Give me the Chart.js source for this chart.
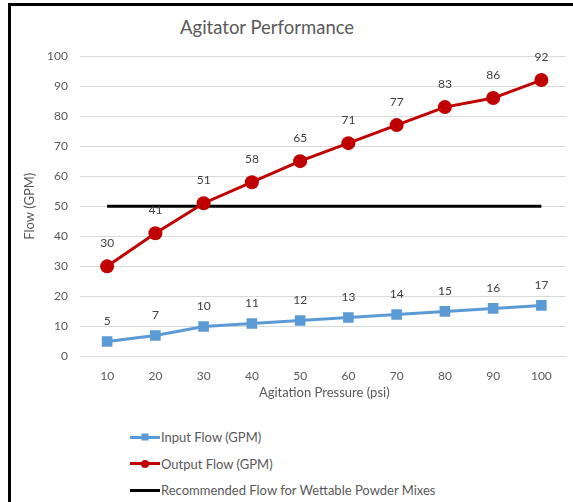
<!DOCTYPE html>
<html>
<head>
<meta charset="utf-8">
<script src="https://cdn.jsdelivr.net/npm/chart.js@4/dist/chart.umd.min.js"></script>
<style>
  html, body { margin: 0; padding: 0; background: #fff; overflow: hidden; }
  body { width: 573px; height: 502px; position: relative; font-family: Lato, "Noto Sans", sans-serif; }
  #frameL { position: absolute; left: 8px; top: 3px; width: 3px; height: 499px; background: #000; }
  #frameT { position: absolute; left: 8px; top: 3px; width: 565px; height: 3px; background: #000; }
  #title { position: absolute; left: 180px; top: 16px; font-size: 18.5px; color: #595959; white-space: nowrap; }
  #wrap { position: absolute; left: 0; top: 0; width: 573px; height: 415px; }
  #legend { position: absolute; left: 130px; top: 424px; font-size: 13px; color: #595959; }
  .item { height: 26.5px; display: flex; align-items: center; }
  .mk { position: relative; width: 30px; height: 14px; margin-right: 1px; }
  .mk .ln { position: absolute; left: 0; right: 0; top: 5.5px; height: 3px; }
  .mk .pt { position: absolute; left: 50%; top: 50%; transform: translate(-50%, -50%); }
</style>
</head>
<body>
<div id="frameL"></div>
<div id="frameT"></div>
<div id="title">Agitator Performance</div>
<div id="wrap"><canvas id="c" width="573" height="415"></canvas></div>
<div id="legend"></div>
<script>
const categories = ["10","20","30","40","50","60","70","80","90","100"];
const inputFlow = [5, 7, 10, 11, 12, 13, 14, 15, 16, 17];
const outputFlow = [30, 41, 51, 58, 65, 71, 77, 83, 86, 92];
const recommendedFlow = [50, 50, 50, 50, 50, 50, 50, 50, 50, 50];
const yTicks = [0, 10, 20, 30, 40, 50, 60, 70, 80, 90, 100];

const FONT = "Lato, 'Noto Sans', sans-serif";
const GREY = "#595959";

const valueLabels = {
  id: "valueLabels",
  afterDatasetsDraw(chart) {
    const ctx = chart.ctx;
    ctx.save();
    ctx.font = "12px " + FONT;
    ctx.fillStyle = "#404040";
    ctx.textAlign = "center";
    ctx.textBaseline = "middle";
    chart.data.datasets.forEach((ds, i) => {
      if (!ds.showValues) return;
      const meta = chart.getDatasetMeta(i);
      meta.data.forEach((pt, j) => {
        ctx.fillText(String(ds.data[j]), pt.x, pt.y - ds.labelOffset);
      });
    });
    ctx.restore();
  }
};

const chart = new Chart(document.getElementById("c"), {
  type: "line",
  data: {
    labels: categories,
    datasets: [
      {
        label: "Input Flow (GPM)",
        data: inputFlow,
        borderColor: "#5B9BD5",
        backgroundColor: "#5B9BD5",
        borderWidth: 3,
        pointStyle: "rect",
        pointRadius: 7.5,
        pointBorderWidth: 0,
        showValues: true,
        labelOffset: 20,
        order: 2
      },
      {
        label: "Output Flow (GPM)",
        data: outputFlow,
        borderColor: "#C00000",
        backgroundColor: "#C00000",
        borderWidth: 3,
        pointStyle: "circle",
        pointRadius: 7,
        pointBorderWidth: 0,
        showValues: true,
        labelOffset: 23,
        order: 1
      },
      {
        label: "Recommended Flow for Wettable Powder Mixes",
        data: recommendedFlow,
        borderColor: "#000000",
        backgroundColor: "#000000",
        borderWidth: 3,
        pointRadius: 0,
        showValues: false,
        order: 3
      }
    ]
  },
  options: {
    responsive: false,
    animation: false,
    layout: { padding: { left: 18, right: 7, top: 56, bottom: 10 } },
    plugins: {
      legend: { display: false },
      title: { display: false },
      tooltip: { enabled: false }
    },
    scales: {
      x: {
        offset: true,
        grid: { display: false, drawTicks: false },
        border: { display: false },
        ticks: { color: GREY, font: { family: FONT, size: 12 }, padding: 12 },
        title: { display: true, text: "Agitation Pressure (psi)", color: GREY, font: { family: FONT, size: 13 } },
        afterFit(s) { s.height = 48.5; }
      },
      y: {
        min: 0,
        max: 100,
        afterBuildTicks(s) { s.ticks = yTicks.map(v => ({ value: v })); },
        grid: { color: "#D9D9D9", lineWidth: 1, drawTicks: true, tickLength: 3 },
        border: { display: false },
        ticks: { color: GREY, font: { family: FONT, size: 12 }, padding: 12 },
        title: { display: true, text: "Flow (GPM)", color: GREY, font: { family: FONT, size: 13 } },
        afterFit(s) { s.width = 65; }
      }
    }
  },
  plugins: [valueLabels]
});

// HTML legend built from the chart's datasets
const legendEl = document.getElementById("legend");
chart.data.datasets.forEach(ds => {
  const item = document.createElement("div");
  item.className = "item";
  const mk = document.createElement("span");
  mk.className = "mk";
  const ln = document.createElement("span");
  ln.className = "ln";
  ln.style.background = ds.borderColor;
  mk.appendChild(ln);
  if (ds.pointRadius > 0) {
    const pt = document.createElement("span");
    pt.className = "pt";
    pt.style.background = ds.backgroundColor;
    if (ds.pointStyle === "circle") {
      pt.style.width = "8px"; pt.style.height = "8px"; pt.style.borderRadius = "50%";
    } else {
      pt.style.width = "7px"; pt.style.height = "7px";
    }
    mk.appendChild(pt);
  }
  item.appendChild(mk);
  const t = document.createElement("span");
  t.textContent = ds.label;
  item.appendChild(t);
  legendEl.appendChild(item);
});
</script>
</body>
</html>
